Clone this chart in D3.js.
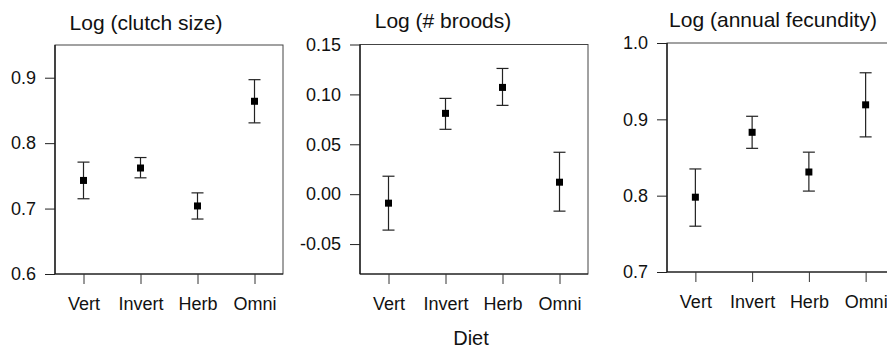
<!DOCTYPE html>
<html>
<head>
<meta charset="utf-8">
<script src="https://cdn.jsdelivr.net/npm/d3@7"></script>
<style>
  body { margin: 0; background: #fff; }
  svg { display: block; font-family: "Liberation Sans", Arial, sans-serif; }
</style>
</head>
<body>
<div id="chart"></div>
<script>
const categories = ['Vert', 'Invert', 'Herb', 'Omni'];

// Log (clutch size)
const clutchMean = [0.743, 0.762, 0.704, 0.864];
const clutchLow  = [0.715, 0.747, 0.684, 0.831];
const clutchHigh = [0.771, 0.778, 0.724, 0.897];

// Log (# broods)
const broodsMean = [-0.009, 0.081, 0.107, 0.012];
const broodsLow  = [-0.036, 0.065, 0.089, -0.017];
const broodsHigh = [0.018, 0.096, 0.126, 0.042];

// Log (annual fecundity)
const fecundMean = [0.798, 0.883, 0.831, 0.919];
const fecundLow  = [0.760, 0.862, 0.806, 0.877];
const fecundHigh = [0.835, 0.904, 0.857, 0.961];

const clutchTicks = [0.6, 0.7, 0.8, 0.9];
const broodsTicks = [-0.05, 0.00, 0.05, 0.10, 0.15];
const fecundTicks = [0.7, 0.8, 0.9, 1.0];

// plain hyphen for negatives, like the original figure
const fmt1 = v => d3.format('.1f')(v).replace('\u2212', '-');
const fmt2 = v => d3.format('.2f')(v).replace('\u2212', '-');

const panels = [
  { title: 'Log (clutch size)', titleX: 146, titleY: 30,
    left: 55, right: 283, top: 45, bottom: 274, domain: [0.6, 0.95],
    ticks: clutchTicks, fmt: fmt1,
    mean: clutchMean, low: clutchLow, high: clutchHigh },
  { title: 'Log (# broods)', titleX: 443, titleY: 28,
    left: 360, right: 588, top: 44.5, bottom: 274, domain: [-0.08, 0.15],
    ticks: broodsTicks, fmt: fmt2,
    mean: broodsMean, low: broodsLow, high: broodsHigh },
  { title: 'Log (annual fecundity)', titleX: 773, titleY: 27,
    left: 667, right: 894, top: 43, bottom: 272, domain: [0.7, 1.0],
    ticks: fecundTicks, fmt: fmt1,
    mean: fecundMean, low: fecundLow, high: fecundHigh }
];

const svg = d3.select('#chart').append('svg')
  .attr('width', 887)
  .attr('height', 350);

panels.forEach(p => {
  const x = d3.scalePoint().domain(categories).range([p.left, p.right]).padding(0.5);
  const y = d3.scaleLinear().domain(p.domain).range([p.bottom, p.top]);
  const g = svg.append('g');

  // frame
  g.append('rect')
    .attr('x', p.left).attr('y', p.top)
    .attr('width', p.right - p.left).attr('height', p.bottom - p.top)
    .attr('fill', 'none').attr('stroke', '#444').attr('stroke-width', 1);

  const yAxis = g.append('g')
    .attr('transform', `translate(${p.left},0)`)
    .call(d3.axisLeft(y).tickValues(p.ticks).tickFormat(p.fmt).tickSize(10).tickPadding(9));
  yAxis.select('.domain').attr('stroke', '#111').attr('stroke-width', 1.3)
    .attr('d', `M0,${p.top}V${p.bottom}`);
  yAxis.selectAll('.tick line').attr('stroke', '#222');
  yAxis.selectAll('text').attr('font-size', 18).attr('fill', '#111')
    .attr('font-family', '"Liberation Sans", Arial, sans-serif');

  const xAxis = g.append('g')
    .attr('transform', `translate(0,${p.bottom})`)
    .call(d3.axisBottom(x).tickSize(10).tickPadding(13));
  xAxis.select('.domain').attr('stroke', '#111').attr('stroke-width', 1.2)
    .attr('d', `M${p.left},0H${p.right}`);
  xAxis.selectAll('.tick line').attr('stroke', '#333');
  xAxis.selectAll('text').attr('font-size', 18).attr('fill', '#111')
    .attr('font-family', '"Liberation Sans", Arial, sans-serif');

  // error bars
  const cap = 6;
  categories.forEach((c, i) => {
    const cx = x(c);
    g.append('line')
      .attr('x1', cx).attr('x2', cx)
      .attr('y1', y(p.low[i])).attr('y2', y(p.high[i]))
      .attr('stroke', '#222').attr('stroke-width', 1.2);
    [p.low[i], p.high[i]].forEach(v => {
      g.append('line')
        .attr('x1', cx - cap).attr('x2', cx + cap)
        .attr('y1', y(v)).attr('y2', y(v))
        .attr('stroke', '#222').attr('stroke-width', 1.2);
    });
    g.append('rect')
      .attr('x', cx - 3.5).attr('y', y(p.mean[i]) - 3.5)
      .attr('width', 7).attr('height', 7)
      .attr('fill', '#000');
  });

  g.append('text')
    .attr('x', p.titleX).attr('y', p.titleY)
    .attr('text-anchor', 'middle')
    .attr('font-size', 21).attr('fill', '#111')
    .text(p.title);
});

svg.append('text')
  .attr('x', 471).attr('y', 345)
  .attr('text-anchor', 'middle')
  .attr('font-size', 20).attr('fill', '#111')
  .text('Diet');
</script>
</body>
</html>
